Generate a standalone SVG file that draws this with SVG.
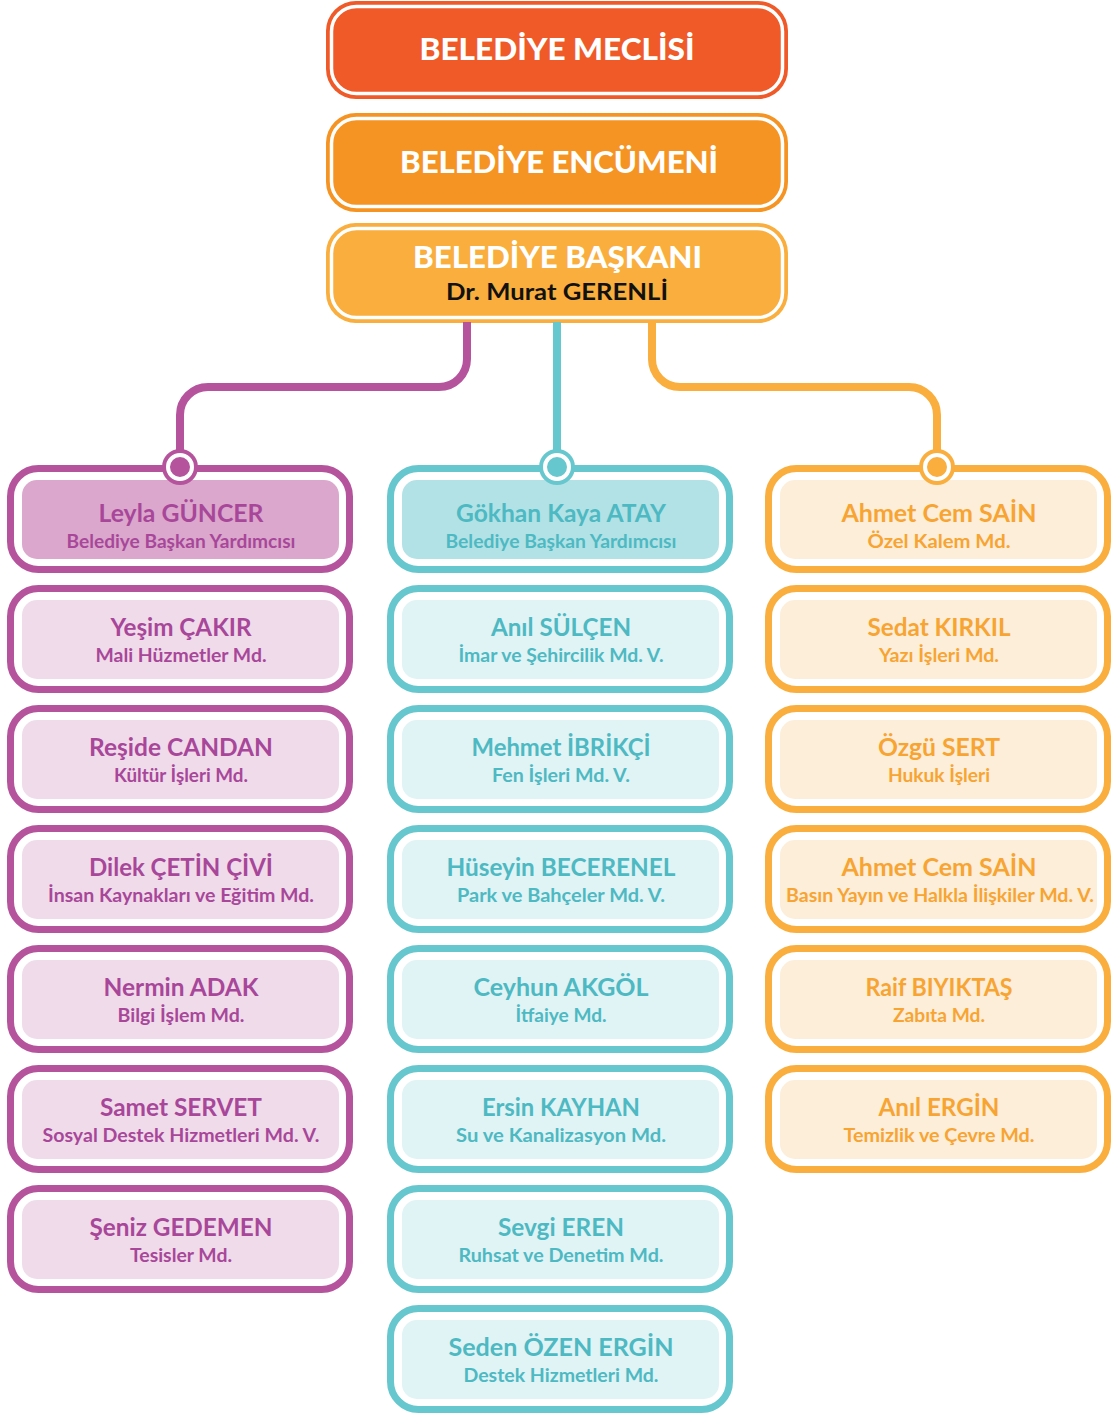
<svg xmlns="http://www.w3.org/2000/svg" width="1112" height="1414" viewBox="0 0 1112 1414">
<style>
.hd{font-family:Lato,"Open Sans","Liberation Sans",sans-serif;font-weight:900;fill:#fff;text-anchor:middle;font-size:31px}
.dr{font-family:Lato,"Open Sans","Liberation Sans",sans-serif;font-weight:bold;fill:#111;text-anchor:middle;font-size:23px}
.nm{font-family:Lato,"Open Sans","Liberation Sans",sans-serif;font-weight:bold;text-anchor:middle;font-size:24px}
.sb{font-family:Lato,"Open Sans","Liberation Sans",sans-serif;font-weight:bold;text-anchor:middle;font-size:19px}
.inw{fill:none;stroke:#fff;stroke-width:3.5}
.op{fill:#fff;stroke:#B5539D;stroke-width:7}
.oc{fill:#fff;stroke:#66C7CE;stroke-width:7}
.oo{fill:#fff;stroke:#F9AE3D;stroke-width:7}
.fp{fill:#F0DBEA}.fp0{fill:#DBA7CC}
.fc{fill:#E0F3F5}.fc0{fill:#B2E2E6}
.fo{fill:#FDEED9}
.tp{fill:#A8479A}.tc{fill:#4DB9C2}.to{fill:#F7A433}
.ln{fill:none;stroke-width:8}
</style>

<g id="belediye-meclisi">
<rect x="326" y="1" width="462" height="98" rx="30" fill="#EF5A28"/>
<rect x="331.5" y="6.5" width="451" height="87" rx="25" class="inw"/>
<text class="hd" x="557" y="60" textLength="275" lengthAdjust="spacingAndGlyphs">BELEDİYE MECLİSİ</text>
</g>
<g id="belediye-encumeni">
<rect x="326" y="113" width="462" height="99" rx="30" fill="#F59422"/>
<rect x="331.5" y="118.5" width="451" height="88" rx="25" class="inw"/>
<text class="hd" x="559" y="173" textLength="318" lengthAdjust="spacingAndGlyphs">BELEDİYE ENCÜMENİ</text>
</g>
<g id="belediye-baskani">
<rect x="326" y="223" width="462" height="100" rx="30" fill="#F9AE3D"/>
<rect x="331.5" y="228.5" width="451" height="89" rx="25" class="inw"/>
<text class="hd" x="557.5" y="268" textLength="289" lengthAdjust="spacingAndGlyphs">BELEDİYE BAŞKANI</text>
<text class="dr" x="557" y="300" textLength="222" lengthAdjust="spacingAndGlyphs">Dr. Murat GERENLİ</text>
</g>

<!-- left column -->
<g id="leyla-guncer">
<rect x="10.5" y="468.5" width="339" height="101" rx="28" class="op"/>
<rect x="22" y="480" width="317" height="79" rx="15" class="fp0"/>
<text class="nm tp" x="181" y="522" textLength="165" lengthAdjust="spacingAndGlyphs">Leyla GÜNCER</text>
<text class="sb tp" x="181" y="548" textLength="229" lengthAdjust="spacingAndGlyphs">Belediye Başkan Yardımcısı</text>
</g>
<g id="yesim-cakir">
<rect x="10.5" y="588.5" width="339" height="101" rx="28" class="op"/>
<rect x="22" y="600" width="317" height="79" rx="15" class="fp"/>
<text class="nm tp" x="181" y="636" textLength="141" lengthAdjust="spacingAndGlyphs">Yeşim ÇAKIR</text>
<text class="sb tp" x="181" y="662" textLength="171" lengthAdjust="spacingAndGlyphs">Mali Hüzmetler Md.</text>
</g>
<g id="reside-candan">
<rect x="10.5" y="708.5" width="339" height="101" rx="28" class="op"/>
<rect x="22" y="720" width="317" height="79" rx="15" class="fp"/>
<text class="nm tp" x="181" y="756" textLength="184" lengthAdjust="spacingAndGlyphs">Reşide CANDAN</text>
<text class="sb tp" x="181" y="782" textLength="134" lengthAdjust="spacingAndGlyphs">Kültür İşleri Md.</text>
</g>
<g id="dilek-cetin-civi">
<rect x="10.5" y="828.5" width="339" height="101" rx="28" class="op"/>
<rect x="22" y="840" width="317" height="79" rx="15" class="fp"/>
<text class="nm tp" x="181" y="876" textLength="184" lengthAdjust="spacingAndGlyphs">Dilek ÇETİN ÇİVİ</text>
<text class="sb tp" x="181" y="902" textLength="266" lengthAdjust="spacingAndGlyphs">İnsan Kaynakları ve Eğitim Md.</text>
</g>
<g id="nermin-adak">
<rect x="10.5" y="948.5" width="339" height="101" rx="28" class="op"/>
<rect x="22" y="960" width="317" height="79" rx="15" class="fp"/>
<text class="nm tp" x="181" y="996" textLength="155" lengthAdjust="spacingAndGlyphs">Nermin ADAK</text>
<text class="sb tp" x="181" y="1022" textLength="127" lengthAdjust="spacingAndGlyphs">Bilgi İşlem Md.</text>
</g>
<g id="samet-servet">
<rect x="10.5" y="1068.5" width="339" height="101" rx="28" class="op"/>
<rect x="22" y="1080" width="317" height="79" rx="15" class="fp"/>
<text class="nm tp" x="181" y="1116" textLength="162" lengthAdjust="spacingAndGlyphs">Samet SERVET</text>
<text class="sb tp" x="181" y="1142" textLength="277" lengthAdjust="spacingAndGlyphs">Sosyal Destek Hizmetleri Md. V.</text>
</g>
<g id="seniz-gedemen">
<rect x="10.5" y="1188.5" width="339" height="101" rx="28" class="op"/>
<rect x="22" y="1200" width="317" height="79" rx="15" class="fp"/>
<text class="nm tp" x="181" y="1236" textLength="183" lengthAdjust="spacingAndGlyphs">Şeniz GEDEMEN</text>
<text class="sb tp" x="181" y="1262" textLength="102" lengthAdjust="spacingAndGlyphs">Tesisler Md.</text>
</g>

<!-- center column -->
<g id="gokhan-kaya-atay">
<rect x="390.5" y="468.5" width="339" height="101" rx="28" class="oc"/>
<rect x="402" y="480" width="317" height="79" rx="15" class="fc0"/>
<text class="nm tc" x="561" y="522" textLength="210" lengthAdjust="spacingAndGlyphs">Gökhan Kaya ATAY</text>
<text class="sb tc" x="561" y="548" textLength="231" lengthAdjust="spacingAndGlyphs">Belediye Başkan Yardımcısı</text>
</g>
<g id="anil-sulcen">
<rect x="390.5" y="588.5" width="339" height="101" rx="28" class="oc"/>
<rect x="402" y="600" width="317" height="79" rx="15" class="fc"/>
<text class="nm tc" x="561" y="636" textLength="140" lengthAdjust="spacingAndGlyphs">Anıl SÜLÇEN</text>
<text class="sb tc" x="561" y="662" textLength="205" lengthAdjust="spacingAndGlyphs">İmar ve Şehircilik Md. V.</text>
</g>
<g id="mehmet-ibrikci">
<rect x="390.5" y="708.5" width="339" height="101" rx="28" class="oc"/>
<rect x="402" y="720" width="317" height="79" rx="15" class="fc"/>
<text class="nm tc" x="561" y="756" textLength="179" lengthAdjust="spacingAndGlyphs">Mehmet İBRİKÇİ</text>
<text class="sb tc" x="561" y="782" textLength="138" lengthAdjust="spacingAndGlyphs">Fen İşleri Md. V.</text>
</g>
<g id="huseyin-becerenel">
<rect x="390.5" y="828.5" width="339" height="101" rx="28" class="oc"/>
<rect x="402" y="840" width="317" height="79" rx="15" class="fc"/>
<text class="nm tc" x="561" y="876" textLength="229" lengthAdjust="spacingAndGlyphs">Hüseyin BECERENEL</text>
<text class="sb tc" x="561" y="902" textLength="208" lengthAdjust="spacingAndGlyphs">Park ve Bahçeler Md. V.</text>
</g>
<g id="ceyhun-akgol">
<rect x="390.5" y="948.5" width="339" height="101" rx="28" class="oc"/>
<rect x="402" y="960" width="317" height="79" rx="15" class="fc"/>
<text class="nm tc" x="561" y="996" textLength="175" lengthAdjust="spacingAndGlyphs">Ceyhun AKGÖL</text>
<text class="sb tc" x="561" y="1022" textLength="91" lengthAdjust="spacingAndGlyphs">İtfaiye Md.</text>
</g>
<g id="ersin-kayhan">
<rect x="390.5" y="1068.5" width="339" height="101" rx="28" class="oc"/>
<rect x="402" y="1080" width="317" height="79" rx="15" class="fc"/>
<text class="nm tc" x="561" y="1116" textLength="158" lengthAdjust="spacingAndGlyphs">Ersin KAYHAN</text>
<text class="sb tc" x="561" y="1142" textLength="210" lengthAdjust="spacingAndGlyphs">Su ve Kanalizasyon Md.</text>
</g>
<g id="sevgi-eren">
<rect x="390.5" y="1188.5" width="339" height="101" rx="28" class="oc"/>
<rect x="402" y="1200" width="317" height="79" rx="15" class="fc"/>
<text class="nm tc" x="561" y="1236" textLength="126" lengthAdjust="spacingAndGlyphs">Sevgi EREN</text>
<text class="sb tc" x="561" y="1262" textLength="205" lengthAdjust="spacingAndGlyphs">Ruhsat ve Denetim Md.</text>
</g>
<g id="seden-ozen-ergin">
<rect x="390.5" y="1308.5" width="339" height="101" rx="28" class="oc"/>
<rect x="402" y="1320" width="317" height="79" rx="15" class="fc"/>
<text class="nm tc" x="561" y="1356" textLength="225" lengthAdjust="spacingAndGlyphs">Seden ÖZEN ERGİN</text>
<text class="sb tc" x="561" y="1382" textLength="195" lengthAdjust="spacingAndGlyphs">Destek Hizmetleri Md.</text>
</g>

<!-- right column -->
<g id="ahmet-cem-sain-ozel-kalem">
<rect x="768.5" y="468.5" width="339" height="101" rx="28" class="oo"/>
<rect x="780" y="480" width="317" height="79" rx="15" class="fo"/>
<text class="nm to" x="939" y="522" textLength="195" lengthAdjust="spacingAndGlyphs">Ahmet Cem SAİN</text>
<text class="sb to" x="939" y="548" textLength="143" lengthAdjust="spacingAndGlyphs">Özel Kalem Md.</text>
</g>
<g id="sedat-kirkil">
<rect x="768.5" y="588.5" width="339" height="101" rx="28" class="oo"/>
<rect x="780" y="600" width="317" height="79" rx="15" class="fo"/>
<text class="nm to" x="939" y="636" textLength="143" lengthAdjust="spacingAndGlyphs">Sedat KIRKIL</text>
<text class="sb to" x="939" y="662" textLength="120" lengthAdjust="spacingAndGlyphs">Yazı İşleri Md.</text>
</g>
<g id="ozgu-sert">
<rect x="768.5" y="708.5" width="339" height="101" rx="28" class="oo"/>
<rect x="780" y="720" width="317" height="79" rx="15" class="fo"/>
<text class="nm to" x="939" y="756" textLength="122" lengthAdjust="spacingAndGlyphs">Özgü SERT</text>
<text class="sb to" x="939" y="782" textLength="102" lengthAdjust="spacingAndGlyphs">Hukuk İşleri</text>
</g>
<g id="ahmet-cem-sain-basin">
<rect x="768.5" y="828.5" width="339" height="101" rx="28" class="oo"/>
<rect x="780" y="840" width="317" height="79" rx="15" class="fo"/>
<text class="nm to" x="939" y="876" textLength="195" lengthAdjust="spacingAndGlyphs">Ahmet Cem SAİN</text>
<text class="sb to" x="940" y="902" textLength="308" lengthAdjust="spacingAndGlyphs">Basın Yayın ve Halkla İlişkiler Md. V.</text>
</g>
<g id="raif-biyiktas">
<rect x="768.5" y="948.5" width="339" height="101" rx="28" class="oo"/>
<rect x="780" y="960" width="317" height="79" rx="15" class="fo"/>
<text class="nm to" x="939" y="996" textLength="147" lengthAdjust="spacingAndGlyphs">Raif BIYIKTAŞ</text>
<text class="sb to" x="939" y="1022" textLength="92" lengthAdjust="spacingAndGlyphs">Zabıta Md.</text>
</g>
<g id="anil-ergin">
<rect x="768.5" y="1068.5" width="339" height="101" rx="28" class="oo"/>
<rect x="780" y="1080" width="317" height="79" rx="15" class="fo"/>
<text class="nm to" x="939" y="1116" textLength="121" lengthAdjust="spacingAndGlyphs">Anıl ERGİN</text>
<text class="sb to" x="939" y="1142" textLength="191" lengthAdjust="spacingAndGlyphs">Temizlik ve Çevre Md.</text>
</g>

<g id="connectors">
<path class="ln" stroke="#B5539D" d="M467,322 V359 A28,28 0 0 1 439,387 H208 A28,28 0 0 0 180,415 V467"/>
<path class="ln" stroke="#66C7CE" d="M557,322 V467"/>
<path class="ln" stroke="#F9AE3D" d="M652,322 V359 A28,28 0 0 0 680,387 H909 A28,28 0 0 1 937,415 V467"/>
<circle cx="180" cy="467" r="18" fill="#B5539D"/>
<circle cx="180" cy="467" r="12" fill="none" stroke="#fff" stroke-width="4"/>
<circle cx="557" cy="467" r="18" fill="#66C7CE"/>
<circle cx="557" cy="467" r="12" fill="none" stroke="#fff" stroke-width="4"/>
<circle cx="937" cy="467" r="18" fill="#F9AE3D"/>
<circle cx="937" cy="467" r="12" fill="none" stroke="#fff" stroke-width="4"/>
</g>
</svg>
